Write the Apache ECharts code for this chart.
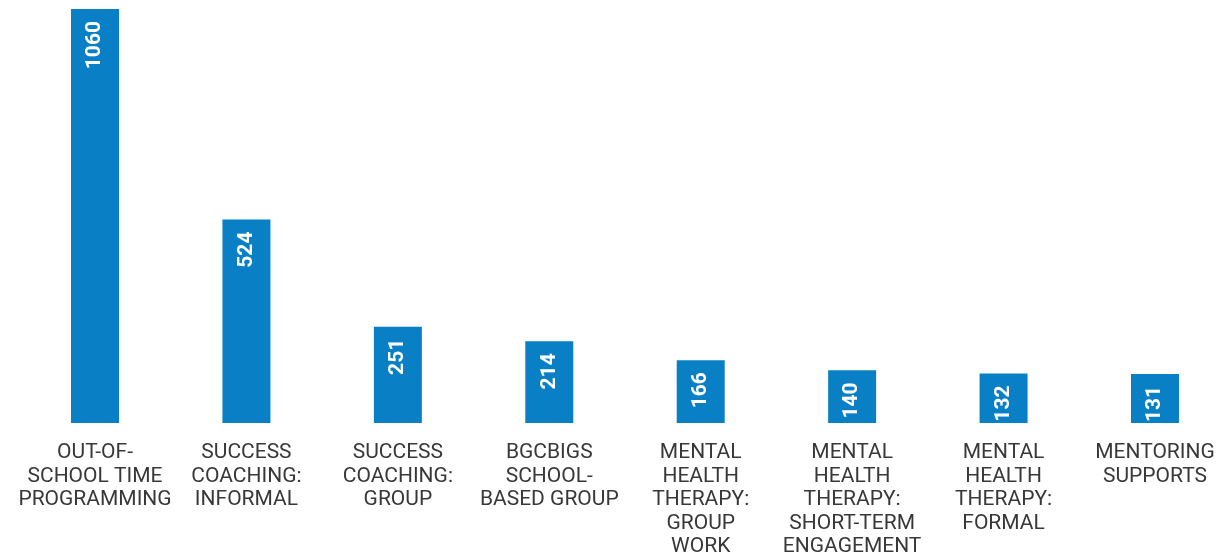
<!DOCTYPE html>
<html>
<head>
<meta charset="utf-8">
<script src="https://cdn.jsdelivr.net/npm/echarts@6/dist/echarts.min.js"></script>
<style>html,body{margin:0;padding:0;background:#fff;}#c{width:1221px;height:558px;}</style>
</head>
<body>
<div id="c"></div>
<script>
const categories = [
  "OUT-OF-\nSCHOOL TIME\nPROGRAMMING",
  "SUCCESS\nCOACHING:\nINFORMAL",
  "SUCCESS\nCOACHING:\nGROUP",
  "BGCBIGS\nSCHOOL-\nBASED GROUP",
  "MENTAL\nHEALTH\nTHERAPY:\nGROUP\nWORK",
  "MENTAL\nHEALTH\nTHERAPY:\nSHORT-TERM\nENGAGEMENT",
  "MENTAL\nHEALTH\nTHERAPY:\nFORMAL",
  "MENTORING\nSUPPORTS"
];
const values = [1060, 524, 251, 214, 166, 140, 132, 131];

const chart = echarts.init(document.getElementById('c'));
chart.setOption({
  animation: false,
  grid: { left: 19.3, top: 9, width: 1211.4, bottom: 135, containLabel: false, outerBoundsMode: 'none' },
  xAxis: {
    type: 'category',
    data: categories,
    axisLine: { show: false },
    axisTick: { show: false },
    axisLabel: {
      interval: 0,
      margin: 18,
      color: '#383838',
      fontFamily: 'Roboto',
      fontSize: 21,
      lineHeight: 23.5
    }
  },
  yAxis: {
    type: 'value',
    min: 6,
    max: 1060,
    show: false,
    splitLine: { show: false }
  },
  series: [{
    type: 'bar',
    data: values,
    barWidth: 48,
    itemStyle: { color: '#0980C6' },
    label: {
      show: true,
      position: 'insideTop',
      rotate: 90,
      align: 'right',
      verticalAlign: 'middle',
      distance: 12,
      color: '#ffffff',
      fontFamily: 'Roboto',
      fontWeight: 'bold',
      fontSize: 21
    }
  }]
});
</script>
</body>
</html>
